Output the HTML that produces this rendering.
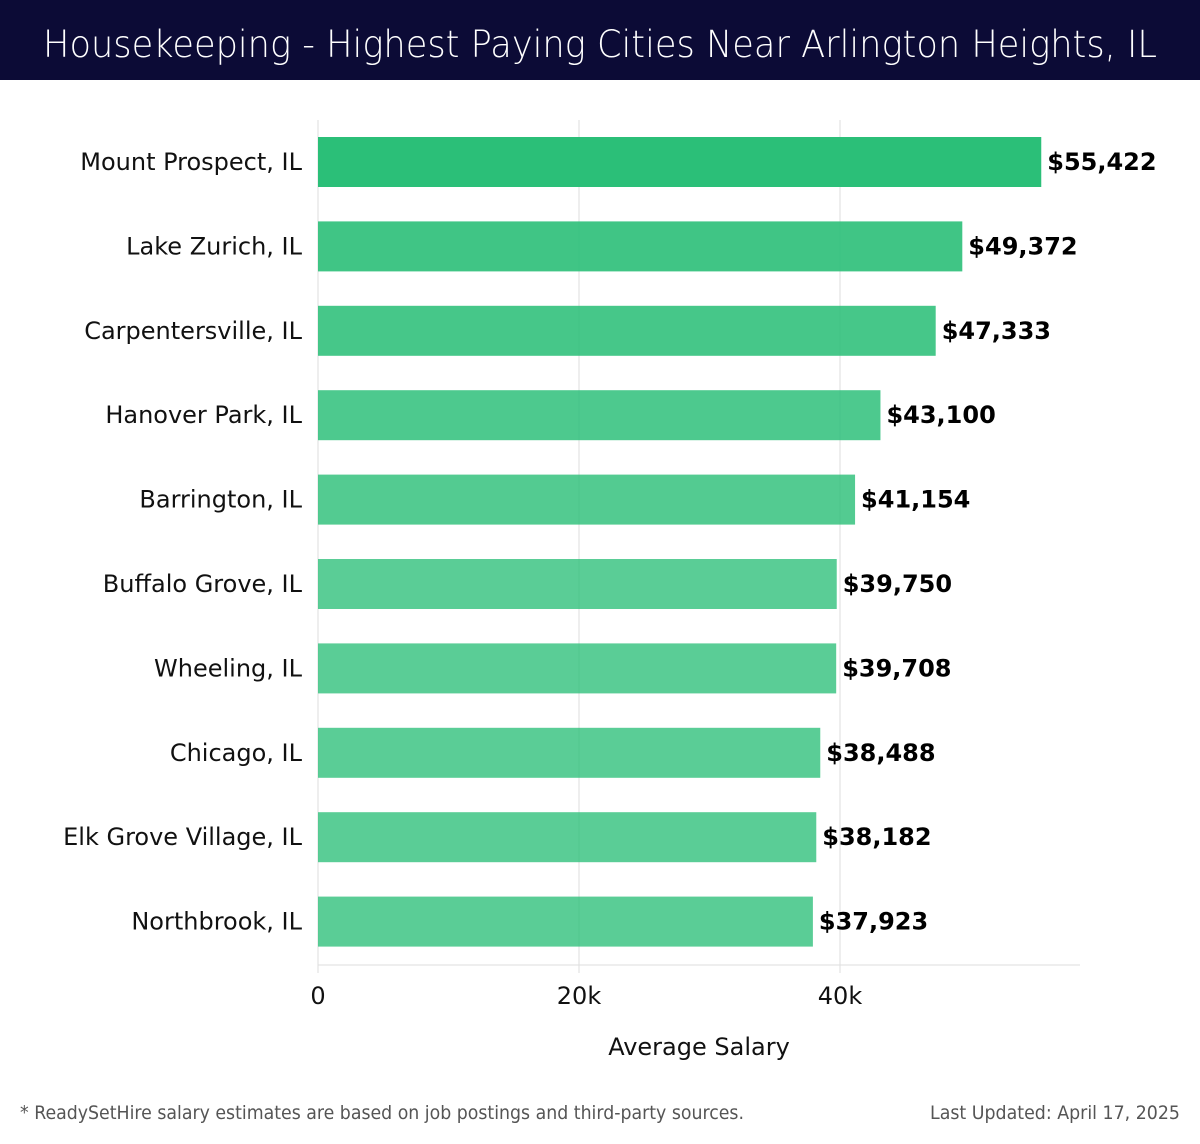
<!DOCTYPE html>
<html><head><meta charset="utf-8"><style>
body{margin:0;width:1200px;height:1140px;background:#fff;font-family:"DejaVu Sans","Liberation Sans",sans-serif;overflow:hidden}
</style></head><body>
<svg width="1200" height="1140" xmlns="http://www.w3.org/2000/svg">
<rect x="0" y="0" width="1200" height="80" fill="#0c0b36"/>
<text x="43" y="57" fill="#fff" font-size="37" font-family="DejaVu Sans, sans-serif" font-weight="200" textLength="1114" lengthAdjust="spacingAndGlyphs">Housekeeping - Highest Paying Cities Near Arlington Heights, IL</text>
<g id="grid"></g>
<g id="bars"></g>
<text x="699" y="1055" text-anchor="middle" font-size="24" fill="#111">Average Salary</text>
<text x="20" y="1119" font-size="19" fill="#555" textLength="724" lengthAdjust="spacingAndGlyphs">* ReadySetHire salary estimates are based on job postings and third-party sources.</text>
<text x="930" y="1119" font-size="19" fill="#555" textLength="250" lengthAdjust="spacingAndGlyphs">Last Updated: April 17, 2025</text>
</svg>
<script>
const categories=["Mount Prospect, IL","Lake Zurich, IL","Carpentersville, IL","Hanover Park, IL","Barrington, IL","Buffalo Grove, IL","Wheeling, IL","Chicago, IL","Elk Grove Village, IL","Northbrook, IL"];
const salaries=[55422,49372,47333,43100,41154,39750,39708,38488,38182,37923];
const ticks=[0,20000,40000];
const tickLabels=["0","20k","40k"];
const NS="http://www.w3.org/2000/svg";
const x0=318,pxPer=261/20000,plotTop=120,pitch=84.4,barH=50,barOff=17;
const xs=v=>x0+v*pxPer;
const ys=i=>plotTop+barOff+i*pitch;
function mk(t,a,p){const e=document.createElementNS(NS,t);for(const k in a)e.setAttribute(k,a[k]);p.appendChild(e);return e;}
const g=document.getElementById('grid'),b=document.getElementById('bars');
ticks.forEach((t,i)=>{
 const l=mk('line',{x1:xs(t),x2:xs(t),y1:plotTop,y2:973,stroke:'#ddd','stroke-width':1},g);
 
 
 const tx=mk('text',{x:xs(t),y:1004,'text-anchor':'middle','font-size':24,fill:'#111'},g);
 tx.textContent=tickLabels[i];
 
 
});
const ax=mk('line',{x1:x0,x2:1080,y1:965,y2:965,stroke:'#ddd','stroke-width':1},g);


categories.forEach((c,i)=>{
 const y=ys(i);
 const op=i===0?1:Math.max(0.78,0.9-0.03*(i-1));
 const r=mk('rect',{x:x0,y:y,width:xs(salaries[i])-x0,height:barH,fill:'#2bbf78','fill-opacity':op},b);
 
 
 const lb=mk('text',{x:302,y:y+barH/2+8,'text-anchor':'end','font-size':24,fill:'#111'},b);
 lb.textContent=c;
 
 
 const v=mk('text',{x:xs(salaries[i])+6,y:y+barH/2+8,'font-size':24,'font-weight':'bold',fill:'#000'},b);
 v.textContent='$'+salaries[i].toLocaleString('en-US');
 
 
});
</script>
</body></html>
